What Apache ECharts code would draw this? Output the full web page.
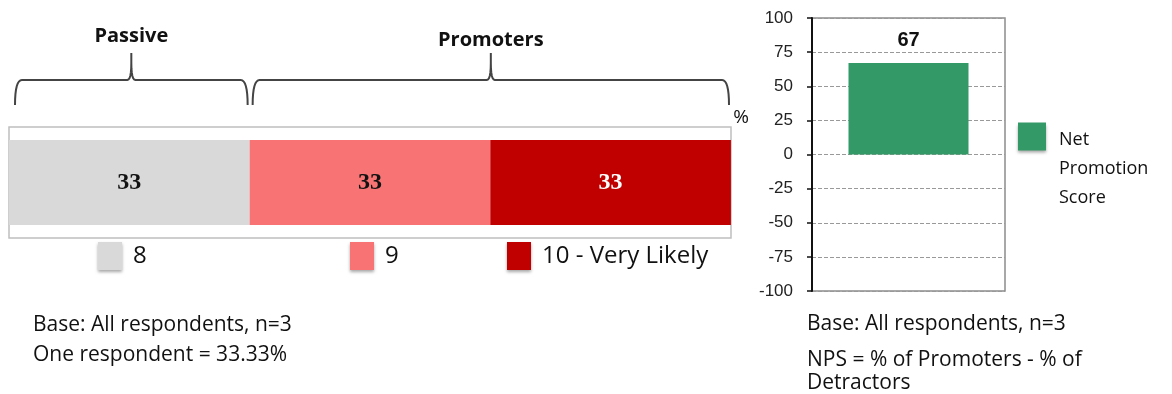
<!DOCTYPE html>
<html><head><meta charset="utf-8">
<script src="https://cdn.jsdelivr.net/npm/echarts@6/dist/echarts.min.js"></script>
<style>html,body{margin:0;padding:0;background:#fff}#c{width:1172px;height:394px}</style>
</head><body><div id="c"></div>
<script>
// ---- data ----
const categories = [''];
const segNames = ['8', '9', '10 - Very Likely'];
const segValues = [33.33, 33.33, 33.33];
const segColors = ['#d9d9d9', '#f87474', '#c00000'];
const groups = [
  { name: 'Passive', from: 0, to: 33.33 },
  { name: 'Promoters', from: 33.33, to: 100 }
];
const npsName = 'Net Promotion Score';
const npsValue = [67];
const npsTicks = { min: -100, max: 100, interval: 25 };
const notesLeft = ['Base: All respondents, n=3', 'One respondent = 33.33%'];
const notesRight = ['Base: All respondents, n=3', 'NPS = % of Promoters - % of', 'Detractors'];

const chart = echarts.init(document.getElementById('c'), null, { renderer: 'canvas' });
const baseFont = 'Open Sans';

const stackSeries = segNames.map((n, i) => ({
  name: n, type: 'bar', stack: 's', xAxisIndex: 0, yAxisIndex: 0,
  data: [segValues[i]], barWidth: 85,
  itemStyle: { color: segColors[i] },
  label: {
    show: true, position: 'inside',
    formatter: p => Math.round(p.value),
    fontFamily: 'Liberation Serif', fontWeight: 'bold', fontSize: 24,
    color: i === 2 ? '#ffffff' : '#111'
  }
}));

const legendPos = [98, 350, 507];
const legends = segNames.map((n, i) => ({
  data: [n], left: legendPos[i] - 5, top: 237, orient: 'horizontal',
  itemWidth: 24, itemHeight: 28, itemGap: 10, icon: 'rect',
  itemStyle: { shadowColor: 'rgba(0,0,0,0.35)', shadowBlur: 3, shadowOffsetY: 2 },
  formatter: name => '{t|' + name + '}',
  textStyle: { rich: { t: { fontFamily: baseFont, fontSize: 24, color: '#111', padding: [0, 0, 0, 6] } } }
}));
legends.push({
  data: [npsName], left: 1013, top: 67, orient: 'vertical',
  itemWidth: 28, itemHeight: 28, icon: 'rect',
  itemStyle: { shadowColor: 'rgba(0,0,0,0.35)', shadowBlur: 3, shadowOffsetY: 2 },
  formatter: () => '{e| }\n{e| }\n{t|Net}\n{t|Promotion}\n{t|Score}',
  textStyle: { rich: {
    e: { fontSize: 10, lineHeight: 32 },
    t: { fontFamily: baseFont, fontSize: 18, color: '#111', lineHeight: 29, padding: [0, 0, 0, 8] }
  } }
});

const option = {
  animation: false,
  backgroundColor: '#ffffff',
  grid: [
    { left: 9, right: 1172 - 731, top: 127, height: 111, containLabel: false, outerBoundsMode: 'none',
      show: true, borderColor: '#bfbfbf', borderWidth: 1.5 },
    { left: 812, right: 1172 - 1005, top: 18, bottom: 394 - 291, containLabel: false, outerBoundsMode: 'none',
      show: true, borderColor: '#8c8c8c', borderWidth: 1.5 }
  ],
  xAxis: [
    { type: 'value', gridIndex: 0, min: 0, max: 100, show: false },
    { type: 'category', gridIndex: 1, data: [''], show: false }
  ],
  yAxis: [
    { type: 'category', gridIndex: 0, data: categories, show: false },
    { type: 'value', gridIndex: 1, min: npsTicks.min, max: npsTicks.max, interval: npsTicks.interval,
      axisLine: { show: true, lineStyle: { color: '#111', width: 2 } },
      axisTick: { show: true, length: 5, lineStyle: { color: '#111', width: 1.5 } },
      axisLabel: { fontFamily: 'Liberation Sans', fontSize: 17, color: '#222', margin: 19 },
      splitLine: { show: true, lineStyle: { color: '#999', type: [4, 2], width: 1 } } }
  ],
  legend: legends,
  series: stackSeries.concat([{
    name: npsName, type: 'bar', xAxisIndex: 1, yAxisIndex: 1, data: npsValue, barWidth: 120,
    itemStyle: { color: '#339966' },
    label: { show: true, position: 'top', distance: 13, fontFamily: 'Liberation Sans', fontWeight: 'bold', fontSize: 20, color: '#111' }
  }])
};
chart.setOption(option);

function quad(p0, p1, p2, n) {
  const pts = [];
  for (let k = 1; k <= n; k++) {
    const t = k / n, u = 1 - t;
    pts.push([u * u * p0[0] + 2 * u * t * p1[0] + t * t * p2[0], u * u * p0[1] + 2 * u * t * p1[1] + t * t * p2[1]]);
  }
  return pts;
}
function bracePoints(x1, x2, xm, yTip, yLine, yPeak) {
  let pts = [[x1, yTip]];
  pts = pts.concat(quad([x1, yTip], [x1, yLine], [x1 + 7, yLine], 8));
  pts.push([xm - 4, yLine]);
  pts = pts.concat(quad([xm - 4, yLine], [xm, yLine], [xm, yPeak + 10], 6));
  pts.push([xm, yPeak]);
  pts.push([xm, yPeak + 10]);
  pts = pts.concat(quad([xm, yPeak + 10], [xm, yLine], [xm + 4, yLine], 6));
  pts.push([x2 - 7, yLine]);
  pts = pts.concat(quad([x2 - 7, yLine], [x2, yLine], [x2, yTip], 8));
  return pts;
}
const gfx = [];
groups.forEach((g, i) => {
  const a = chart.convertToPixel({ gridIndex: 0 }, [g.from, 0])[0] + (i === 0 ? 6 : 3);
  const b = chart.convertToPixel({ gridIndex: 0 }, [g.to, 0])[0] - 2;
  const m = (a + b) / 2;
  gfx.push({ type: 'polyline', shape: { points: bracePoints(a, b, m, 105, 80, 53) },
    style: { fill: null, stroke: '#444', lineWidth: 2 } });
  gfx.push({ type: 'text', x: m, y: i === 0 ? 36 : 40,
    style: { text: g.name, fontFamily: baseFont, fontWeight: 'bold', fontSize: 20, fill: '#111', align: 'center', verticalAlign: 'middle' } });
});
gfx.push({ type: 'text', x: 741, y: 118, style: { text: '%', fontFamily: baseFont, fontSize: 19, fill: '#111', align: 'center', verticalAlign: 'middle' } });
const noteStyle = { fontFamily: baseFont, fontSize: 21, fill: '#111', verticalAlign: 'middle' };
gfx.push({ type: 'text', x: 33, y: 325, style: Object.assign({ text: notesLeft[0] }, noteStyle) });
gfx.push({ type: 'text', x: 33, y: 355, style: Object.assign({ text: notesLeft[1] }, noteStyle) });
gfx.push({ type: 'text', x: 807, y: 324, style: Object.assign({ text: notesRight[0] }, noteStyle) });
gfx.push({ type: 'text', x: 807, y: 360, style: Object.assign({ text: notesRight[1] }, noteStyle) });
gfx.push({ type: 'text', x: 807, y: 383, style: Object.assign({ text: notesRight[2] }, noteStyle) });
chart.setOption({ graphic: gfx });
</script></body></html>
